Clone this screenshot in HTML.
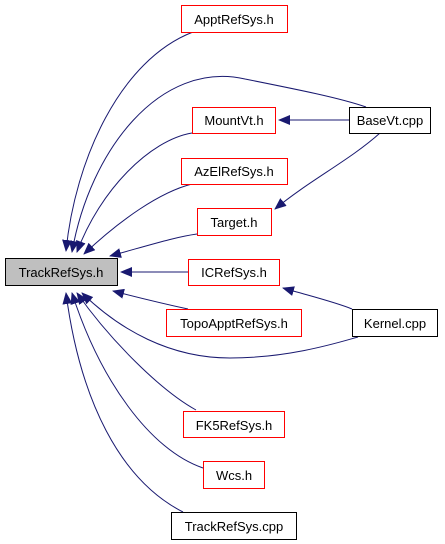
<!DOCTYPE html>
<html><head><style>body{margin:0;background:#fff}svg{display:block}text{font-family:"Liberation Sans",sans-serif;font-size:13px;text-anchor:middle}</style></head><body>
<svg width="445" height="544" viewBox="0 0 445 544" xmlns="http://www.w3.org/2000/svg">
<defs><marker id="a" markerWidth="12" markerHeight="10" refX="1" refY="5" orient="auto" markerUnits="userSpaceOnUse"><path d="M12,0 L0,5 L12,10 z" fill="#191970"/></marker></defs>
<g fill="none" stroke="#191970" stroke-width="1">
<path d="M66,251 C75,160 120,60 193,32" marker-start="url(#a)"/>
<path d="M72,252 C90,150 160,60 245,79 C300,90 340,98 366,107" marker-start="url(#a)"/>
<path d="M77,252 C100,190 150,140 192,133" marker-start="url(#a)"/>
<path d="M84,254 C120,220 160,192 192,184" marker-start="url(#a)"/>
<path d="M110,256 C150,245 175,237 197,234" marker-start="url(#a)"/>
<path d="M121,272 L188,272" marker-start="url(#a)"/>
<path d="M113,291 C140,298 165,304 188,309" marker-start="url(#a)"/>
<path d="M82,293 C120,330 170,358 230,358 C290,358 340,342 358,337" marker-start="url(#a)"/>
<path d="M77,293 C110,340 160,390 196,410" marker-start="url(#a)"/>
<path d="M72,293 C100,380 150,450 203,468" marker-start="url(#a)"/>
<path d="M66,293 C80,400 120,480 183,512" marker-start="url(#a)"/>
<path d="M279,120 L349,120" marker-start="url(#a)"/>
<path d="M275,209 C310,180 350,160 380,133" marker-start="url(#a)"/>
<path d="M283,288 C310,296 335,302 352,309" marker-start="url(#a)"/>
</g>
<g stroke-width="1">
<rect x="5.5" y="258.5" width="112" height="27" fill="#bfbfbf" stroke="#000"/>
<rect x="181.5" y="5.5" width="106" height="27" fill="#fff" stroke="red"/>
<rect x="192.5" y="107.5" width="83" height="26" fill="#fff" stroke="red"/>
<rect x="181.5" y="158.5" width="106" height="26" fill="#fff" stroke="red"/>
<rect x="197.5" y="208.5" width="74" height="27" fill="#fff" stroke="red"/>
<rect x="188.5" y="259.5" width="91" height="26" fill="#fff" stroke="red"/>
<rect x="166.5" y="309.5" width="135" height="27" fill="#fff" stroke="red"/>
<rect x="183.5" y="411.5" width="101" height="26" fill="#fff" stroke="red"/>
<rect x="203.5" y="461.5" width="61" height="27" fill="#fff" stroke="red"/>
<rect x="171.5" y="512.5" width="125" height="27" fill="#fff" stroke="#000"/>
<rect x="349.5" y="107.5" width="81" height="26" fill="#fff" stroke="#000"/>
<rect x="352.5" y="309.5" width="85" height="27" fill="#fff" stroke="#000"/>
</g>
<text x="234" y="24">ApptRefSys.h</text>
<text x="61" y="277">TrackRefSys.h</text>
<text x="234" y="125">MountVt.h</text>
<text x="234" y="176">AzElRefSys.h</text>
<text x="234" y="227">Target.h</text>
<text x="234" y="277">ICRefSys.h</text>
<text x="234" y="328">TopoApptRefSys.h</text>
<text x="234" y="430">FK5RefSys.h</text>
<text x="234" y="480">Wcs.h</text>
<text x="234" y="531">TrackRefSys.cpp</text>
<text x="390" y="125">BaseVt.cpp</text>
<text x="395" y="328">Kernel.cpp</text>
</svg>
</body></html>
